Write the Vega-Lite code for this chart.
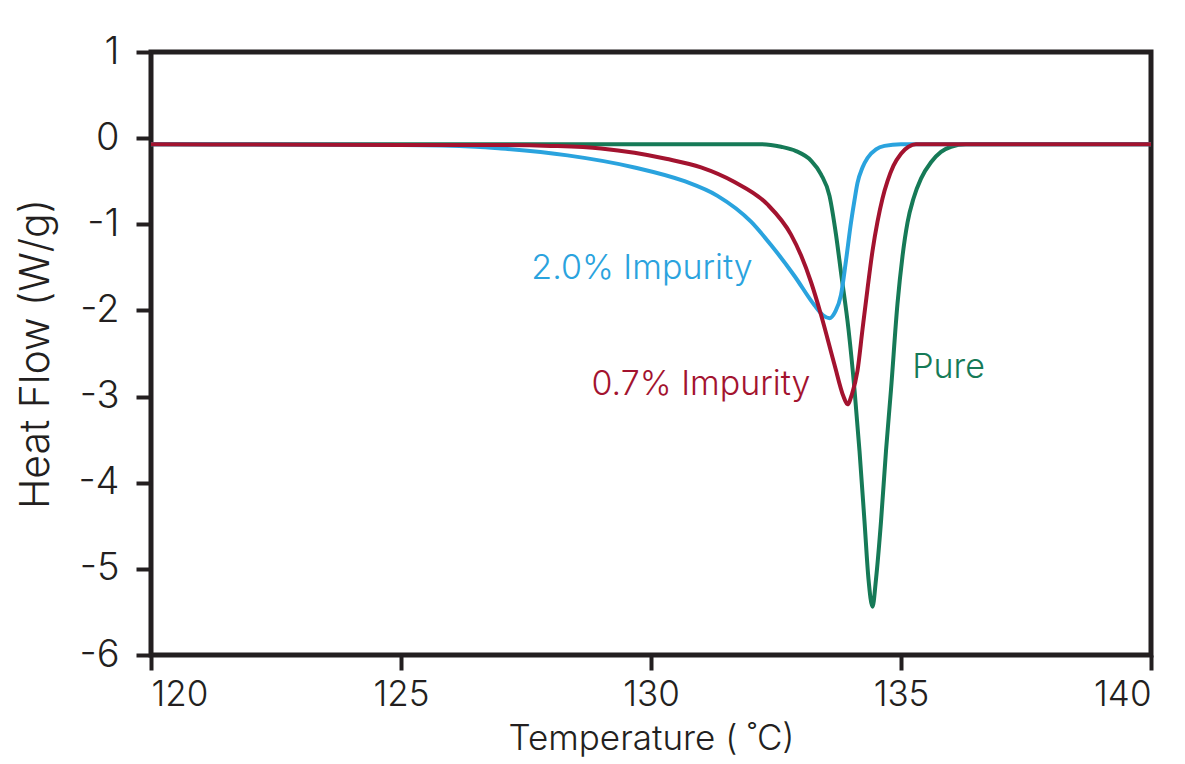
{
  "$schema": "https://vega.github.io/schema/vega-lite/v6.json",
  "width": 1000,
  "height": 603,
  "autosize": {"type": "none"},
  "padding": {"left": 151, "top": 52, "right": 34, "bottom": 109},
  "background": "white",
  "config": {
    "view": {"stroke": "#231f20", "strokeWidth": 5},
    "font": "Inter",
    "axis": {
      "domain": false,
      "grid": false,
      "tickColor": "#231f20",
      "tickWidth": 4,
      "tickSize": 15,
      "labelFont": "Inter",
      "labelFontSize": 38,
      "labelFontWeight": 300,
      "labelColor": "#231f20",
      "titleFont": "Inter",
      "titleFontSize": 41,
      "titleFontWeight": 300,
      "titleColor": "#231f20"
    }
  },
  "datasets": {
    "curves": [
      {"series": "Pure", "T": 120, "v": -0.07},
      {"series": "Pure", "T": 125, "v": -0.07},
      {"series": "Pure", "T": 130, "v": -0.07},
      {"series": "Pure", "T": 132.2, "v": -0.07},
      {"series": "Pure", "T": 132.6, "v": -0.1},
      {"series": "Pure", "T": 132.9, "v": -0.15},
      {"series": "Pure", "T": 133.2, "v": -0.26},
      {"series": "Pure", "T": 133.4, "v": -0.42},
      {"series": "Pure", "T": 133.57, "v": -0.67},
      {"series": "Pure", "T": 133.7, "v": -1.12},
      {"series": "Pure", "T": 133.8, "v": -1.56},
      {"series": "Pure", "T": 133.95, "v": -2.22},
      {"series": "Pure", "T": 134.07, "v": -2.92},
      {"series": "Pure", "T": 134.17, "v": -3.63},
      {"series": "Pure", "T": 134.27, "v": -4.45},
      {"series": "Pure", "T": 134.35, "v": -5.12},
      {"series": "Pure", "T": 134.43, "v": -5.44},
      {"series": "Pure", "T": 134.5, "v": -5.12},
      {"series": "Pure", "T": 134.6, "v": -4.45},
      {"series": "Pure", "T": 134.7, "v": -3.63},
      {"series": "Pure", "T": 134.8, "v": -2.92},
      {"series": "Pure", "T": 134.93, "v": -1.92},
      {"series": "Pure", "T": 135.03, "v": -1.37},
      {"series": "Pure", "T": 135.13, "v": -0.98},
      {"series": "Pure", "T": 135.25, "v": -0.7},
      {"series": "Pure", "T": 135.4, "v": -0.47},
      {"series": "Pure", "T": 135.6, "v": -0.28},
      {"series": "Pure", "T": 135.8, "v": -0.16},
      {"series": "Pure", "T": 136.0, "v": -0.1},
      {"series": "Pure", "T": 136.3, "v": -0.07},
      {"series": "Pure", "T": 140, "v": -0.07},
      {"series": "2.0% Impurity", "T": 120, "v": -0.07},
      {"series": "2.0% Impurity", "T": 125, "v": -0.08},
      {"series": "2.0% Impurity", "T": 126.5, "v": -0.1},
      {"series": "2.0% Impurity", "T": 127, "v": -0.12},
      {"series": "2.0% Impurity", "T": 128.33, "v": -0.2},
      {"series": "2.0% Impurity", "T": 129.67, "v": -0.34},
      {"series": "2.0% Impurity", "T": 130.67, "v": -0.5},
      {"series": "2.0% Impurity", "T": 131.33, "v": -0.67},
      {"series": "2.0% Impurity", "T": 132, "v": -0.97},
      {"series": "2.0% Impurity", "T": 132.4, "v": -1.24},
      {"series": "2.0% Impurity", "T": 132.87, "v": -1.6},
      {"series": "2.0% Impurity", "T": 133.27, "v": -1.94},
      {"series": "2.0% Impurity", "T": 133.45, "v": -2.06},
      {"series": "2.0% Impurity", "T": 133.57, "v": -2.09},
      {"series": "2.0% Impurity", "T": 133.68, "v": -2.02},
      {"series": "2.0% Impurity", "T": 133.8, "v": -1.82},
      {"series": "2.0% Impurity", "T": 133.9, "v": -1.42},
      {"series": "2.0% Impurity", "T": 134, "v": -0.98},
      {"series": "2.0% Impurity", "T": 134.07, "v": -0.72},
      {"series": "2.0% Impurity", "T": 134.13, "v": -0.52},
      {"series": "2.0% Impurity", "T": 134.23, "v": -0.34},
      {"series": "2.0% Impurity", "T": 134.33, "v": -0.23},
      {"series": "2.0% Impurity", "T": 134.5, "v": -0.13},
      {"series": "2.0% Impurity", "T": 134.67, "v": -0.09},
      {"series": "2.0% Impurity", "T": 135, "v": -0.07},
      {"series": "2.0% Impurity", "T": 140, "v": -0.07},
      {"series": "0.7% Impurity", "T": 120, "v": -0.07},
      {"series": "0.7% Impurity", "T": 125, "v": -0.08},
      {"series": "0.7% Impurity", "T": 127, "v": -0.08},
      {"series": "0.7% Impurity", "T": 128, "v": -0.09},
      {"series": "0.7% Impurity", "T": 129, "v": -0.12},
      {"series": "0.7% Impurity", "T": 129.67, "v": -0.17},
      {"series": "0.7% Impurity", "T": 130.3, "v": -0.24},
      {"series": "0.7% Impurity", "T": 131, "v": -0.34},
      {"series": "0.7% Impurity", "T": 131.67, "v": -0.51},
      {"series": "0.7% Impurity", "T": 132.33, "v": -0.77},
      {"series": "0.7% Impurity", "T": 132.8, "v": -1.12},
      {"series": "0.7% Impurity", "T": 133, "v": -1.36},
      {"series": "0.7% Impurity", "T": 133.2, "v": -1.67},
      {"series": "0.7% Impurity", "T": 133.4, "v": -2.05},
      {"series": "0.7% Impurity", "T": 133.67, "v": -2.63},
      {"series": "0.7% Impurity", "T": 133.85, "v": -3.0},
      {"series": "0.7% Impurity", "T": 133.93, "v": -3.09},
      {"series": "0.7% Impurity", "T": 134.02, "v": -2.97},
      {"series": "0.7% Impurity", "T": 134.13, "v": -2.7},
      {"series": "0.7% Impurity", "T": 134.23, "v": -2.22},
      {"series": "0.7% Impurity", "T": 134.33, "v": -1.75},
      {"series": "0.7% Impurity", "T": 134.43, "v": -1.31},
      {"series": "0.7% Impurity", "T": 134.53, "v": -0.97},
      {"series": "0.7% Impurity", "T": 134.63, "v": -0.7},
      {"series": "0.7% Impurity", "T": 134.73, "v": -0.5},
      {"series": "0.7% Impurity", "T": 134.85, "v": -0.32},
      {"series": "0.7% Impurity", "T": 135, "v": -0.18},
      {"series": "0.7% Impurity", "T": 135.15, "v": -0.1},
      {"series": "0.7% Impurity", "T": 135.3, "v": -0.07},
      {"series": "0.7% Impurity", "T": 140, "v": -0.07}
    ],
    "labels": [
      {"series": "2.0% Impurity", "T": 129.82, "v": -1.63},
      {"series": "0.7% Impurity", "T": 131.0, "v": -2.98},
      {"series": "Pure", "T": 135.95, "v": -2.79}
    ]
  },
  "encoding": {
    "x": {
      "field": "T", "type": "quantitative",
      "scale": {"domain": [120, 140], "nice": false, "zero": false},
      "axis": {"values": [120, 125, 130, 135, 140], "title": "Temperature ( ˚C)", "labelFontSize": 35, "titleFontSize": 35, "labelPadding": 7, "titlePadding": 9}
    },
    "y": {
      "field": "v", "type": "quantitative",
      "scale": {"domain": [-6, 1], "nice": false, "zero": false},
      "axis": {"values": [-6, -5, -4, -3, -2, -1, 0, 1], "labelExpr": "'' + datum.value", "title": "Heat Flow (W/g)", "labelPadding": 17, "titlePadding": 20}
    },
    "color": {
      "field": "series", "type": "nominal",
      "scale": {"domain": ["Pure", "2.0% Impurity", "0.7% Impurity"], "range": ["#167a57", "#2aa3de", "#a3132f"]},
      "legend": null
    }
  },
  "layer": [
    {
      "data": {"name": "curves"},
      "transform": [{"filter": "datum.series === 'Pure'"}],
      "mark": {"type": "line", "strokeWidth": 4, "interpolate": "monotone"}
    },
    {
      "data": {"name": "curves"},
      "transform": [{"filter": "datum.series === '2.0% Impurity'"}],
      "mark": {"type": "line", "strokeWidth": 4, "interpolate": "monotone"}
    },
    {
      "data": {"name": "curves"},
      "transform": [{"filter": "datum.series === '0.7% Impurity'"}],
      "mark": {"type": "line", "strokeWidth": 4, "interpolate": "monotone"}
    },
    {
      "data": {"name": "labels"},
      "mark": {"type": "text", "fontSize": 34, "font": "Inter", "fontWeight": 300, "align": "center", "baseline": "alphabetic"},
      "encoding": {"text": {"field": "series"}}
    }
  ]
}
